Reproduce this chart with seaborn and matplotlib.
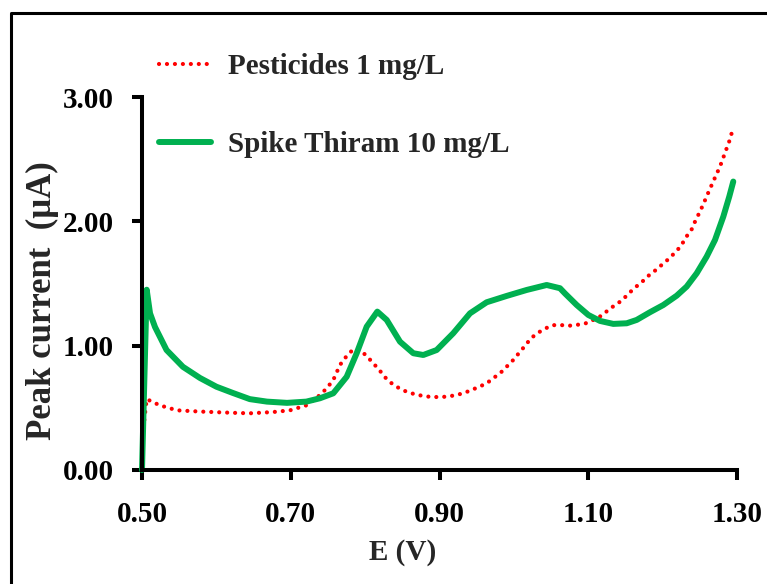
import matplotlib
matplotlib.use("Agg")
import matplotlib.pyplot as plt
from matplotlib.lines import Line2D
import seaborn as sns
import pandas as pd

# ---- data ----
green_E = [0.500, 0.5063, 0.5108, 0.5175, 0.533, 0.555, 0.578, 0.600, 0.622, 0.645,
           0.668, 0.695, 0.721, 0.7393, 0.7572, 0.7752, 0.7887, 0.8021, 0.8164, 0.8290,
           0.8469, 0.8648, 0.8782, 0.8962, 0.9185, 0.9410, 0.9634, 0.9903, 1.0172, 1.0441,
           1.0620, 1.0687, 1.0845, 1.1001, 1.1158, 1.1337, 1.1517, 1.1651, 1.1830, 1.2009,
           1.2189, 1.2323, 1.2458, 1.2592, 1.2704, 1.2816, 1.2896, 1.2950]
green_I = [0.00, 1.45, 1.26, 1.15, 0.965, 0.83, 0.74, 0.67, 0.62, 0.57,
           0.55, 0.54, 0.55, 0.577, 0.617, 0.75, 0.94, 1.153, 1.274, 1.207,
           1.032, 0.939, 0.925, 0.965, 1.10, 1.26, 1.349, 1.40, 1.448, 1.488,
           1.462, 1.42, 1.327, 1.247, 1.199, 1.175, 1.18, 1.207, 1.269, 1.327,
           1.402, 1.475, 1.582, 1.716, 1.85, 2.038, 2.199, 2.32]

red_E = [0.5003, 0.5012, 0.5063, 0.524, 0.547, 0.578, 0.622, 0.645, 0.676, 0.699,
         0.721, 0.7393, 0.7483, 0.7572, 0.7662, 0.7752, 0.7841, 0.7931, 0.8021, 0.8110,
         0.8190, 0.8267, 0.8357, 0.8459, 0.8567, 0.8671, 0.8782, 0.8895, 0.8997, 0.9105,
         0.9208, 0.9320, 0.9433, 0.9535, 0.9634, 0.9723, 0.9823, 0.9903, 0.9992, 1.0073,
         1.0149, 1.0230, 1.0328, 1.0428, 1.0530, 1.0643, 1.0754, 1.0866, 1.0966, 1.1068,
         1.1171, 1.1261, 1.1360, 1.1450, 1.1538, 1.1628, 1.1718, 1.1807, 1.1897, 1.1987,
         1.2076, 1.2166, 1.2247, 1.2314, 1.2391, 1.2445, 1.2502, 1.2556, 1.2606, 1.2660,
         1.2714, 1.2771, 1.2816, 1.2861, 1.2906, 1.2942]
red_I = [0.02, 0.30, 0.57, 0.52, 0.48, 0.47, 0.46, 0.456, 0.466, 0.48,
         0.52, 0.603, 0.657, 0.724, 0.845, 0.917, 0.971, 0.965, 0.917, 0.858,
         0.805, 0.746, 0.697, 0.657, 0.627, 0.609, 0.595, 0.587, 0.587, 0.59,
         0.601, 0.617, 0.644, 0.67, 0.697, 0.738, 0.783, 0.831, 0.885, 0.944,
         0.998, 1.06, 1.105, 1.14, 1.165, 1.165, 1.161, 1.169, 1.18, 1.207,
         1.239, 1.282, 1.327, 1.362, 1.416, 1.467, 1.51, 1.561, 1.603, 1.649,
         1.695, 1.748, 1.802, 1.872, 1.936, 2.011, 2.078, 2.15, 2.22, 2.293,
         2.365, 2.44, 2.513, 2.587, 2.66, 2.74]

labels = ["Pesticides 1 mg/L", "Spike Thiram 10 mg/L"]
x_ticks = [0.50, 0.70, 0.90, 1.10, 1.30]
y_ticks = [0.00, 1.00, 2.00, 3.00]
x_label = "E (V)"
y_label = "Peak current  (\u03bcA)"

# ---- style ----
sns.set_style("white")
plt.rcParams["font.family"] = ["Liberation Serif", "DejaVu Serif"]
plt.rcParams["font.weight"] = "bold"

W, H = 767, 584
fig = plt.figure(figsize=(W / 100, H / 100), dpi=100)
ax = fig.add_axes([142 / W, 1 - 470 / H, (737 - 142) / W, (470 - 97) / H])

red_df = pd.DataFrame({"E": red_E, "I": red_I})
green_df = pd.DataFrame({"E": green_E, "I": green_I})

RED = "#FF0000"
GREEN = "#00B050"
DOTS = (0, (0.01, 1.9))

sns.lineplot(data=red_df, x="E", y="I", ax=ax, color=RED, linewidth=3.0,
             linestyle=DOTS, sort=False, estimator=None,
             dash_capstyle="round", clip_on=False)
sns.lineplot(data=green_df, x="E", y="I", ax=ax, color=GREEN, linewidth=4.3,
             sort=False, estimator=None, solid_capstyle="round",
             solid_joinstyle="round", clip_on=False)

ax.set_xlim(0.5, 1.3)
ax.set_ylim(0, 3)
ax.set_xticks(x_ticks)
ax.set_yticks(y_ticks)
ax.set_xticklabels([f"{v:.2f}" for v in x_ticks])
ax.set_yticklabels([f"{v:.2f}" for v in y_ticks])

for s in ["top", "right"]:
    ax.spines[s].set_visible(False)
for s in ["left", "bottom"]:
    ax.spines[s].set_linewidth(2.9)
    ax.spines[s].set_color("black")

ax.tick_params(axis="both", which="major", direction="out", length=7.2,
               width=2.9, colors="black", labelsize=21,
               bottom=True, left=True, top=False, right=False)
ax.tick_params(axis="x", pad=15)
ax.tick_params(axis="y", pad=13)
for t in ax.get_xticklabels() + ax.get_yticklabels():
    t.set_fontweight("bold")

ax.set_xlabel(x_label, fontsize=21, fontweight="bold")
ax.set_ylabel(y_label, fontsize=25, fontweight="bold")
ax.xaxis.set_label_coords((403 - 142) / 595, -(552 - 470) / 373)
ax.xaxis.label.set_va("center")
ax.yaxis.set_label_coords((42.5 - 142) / 595, (470 - 301) / 373)
ax.yaxis.label.set_va("center")

# legend
handles = [
    Line2D([0], [0], color=RED, linewidth=3.0, linestyle=DOTS,
           dash_capstyle="round"),
    Line2D([0], [0], color=GREEN, linewidth=4.3),
]
leg = ax.legend(handles, labels, loc="upper left",
                bbox_to_anchor=(159 / W, 1 - 53 / H),
                bbox_transform=fig.transFigure, frameon=False,
                fontsize=21, handlelength=1.78, handletextpad=0.6,
                labelspacing=1.76, borderpad=0, borderaxespad=0)
for t in leg.get_texts():
    t.set_fontweight("bold")

# outer frame (left and top edges visible)
fig.add_artist(Line2D([11 / W, 11 / W, 1.0], [0.0, 1 - 13 / H, 1 - 13 / H],
                      transform=fig.transFigure, color="black", linewidth=2.2))

fig.savefig("out.png", dpi=100)
